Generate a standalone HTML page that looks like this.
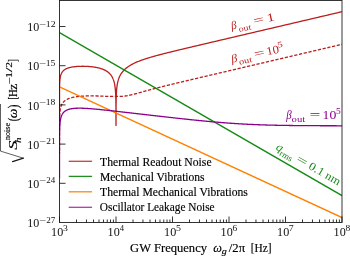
<!DOCTYPE html>
<html><head><meta charset="utf-8"><style>html,body{margin:0;padding:0;background:#fff;overflow:hidden}svg{display:block;will-change:transform}</style></head>
<body><svg width="350" height="256" viewBox="0 0 350 256">
<rect width="350" height="256" fill="#fff"/>
<defs><clipPath id="c"><rect x="59.5" y="0.5" width="282.5" height="222.0"/></clipPath></defs>
<g clip-path="url(#c)" fill="none" stroke-linejoin="round" stroke-width="1.3">
<path d="M59.50,120.64 L59.50,120.53 L59.50,120.40 L59.50,120.25 L59.50,120.08 L59.50,119.90 L59.50,119.69 L59.50,119.45 L59.50,119.19 L59.50,118.91 L59.50,118.59 L59.50,118.25 L59.50,117.88 L59.50,117.48 L59.50,117.05 L59.50,116.60 L59.50,116.12 L59.50,115.62 L59.50,115.10 L59.50,114.55 L59.50,113.99 L59.50,113.41 L59.50,112.81 L59.50,112.20 L59.50,111.58 L59.50,110.94 L59.50,110.30 L59.50,109.65 L59.50,108.99 L59.50,108.32 L59.50,107.65 L59.50,106.98 L59.50,106.30 L59.50,105.61 L59.50,104.93 L59.50,104.24 L59.50,103.55 L59.50,102.85 L59.50,102.16 L59.50,101.46 L59.50,100.76 L59.50,100.06 L59.50,99.36 L59.51,98.66 L59.51,97.96 L59.51,97.26 L59.51,96.56 L59.51,95.86 L59.51,95.15 L59.51,94.45 L59.52,93.75 L59.52,93.05 L59.52,92.34 L59.53,91.64 L59.53,90.94 L59.54,90.23 L59.55,89.53 L59.55,88.83 L59.56,88.54 L59.56,88.12 L59.57,87.42 L59.59,86.72 L59.60,86.02 L59.62,85.32 L59.64,84.62 L59.66,83.92 L59.69,83.22 L59.70,83.03 L59.72,82.52 L59.76,81.82 L59.81,81.12 L59.84,80.68 L59.86,80.43 L59.93,79.74 L59.98,79.17 L60.00,79.05 L60.07,78.50 L60.09,78.36 L60.13,78.07 L60.19,77.67 L60.27,77.19 L60.31,76.99 L60.41,76.47 L60.45,76.31 L60.56,75.86 L60.61,75.64 L60.63,75.56 L60.70,75.33 L60.81,74.97 L60.84,74.86 L60.98,74.44 L61.03,74.31 L61.13,74.07 L61.20,73.89 L61.27,73.72 L61.30,73.65 L61.41,73.41 L61.55,73.12 L61.61,73.00 L61.70,72.85 L61.76,72.73 L61.84,72.60 L61.98,72.37 L61.98,72.37 L62.12,72.15 L62.27,71.94 L62.33,71.85 L62.41,71.75 L62.41,71.74 L62.55,71.56 L62.70,71.39 L62.84,71.22 L62.90,71.16 L62.92,71.13 L62.98,71.06 L63.12,70.91 L63.27,70.77 L63.41,70.63 L63.46,70.58 L63.52,70.53 L63.55,70.50 L63.69,70.38 L63.84,70.25 L63.98,70.14 L64.03,70.10 L64.12,70.03 L64.21,69.96 L64.27,69.92 L64.41,69.82 L64.55,69.72 L64.60,69.68 L64.69,69.62 L64.84,69.53 L64.98,69.44 L65.03,69.40 L65.12,69.35 L65.16,69.32 L65.26,69.26 L65.41,69.18 L65.55,69.10 L65.69,69.03 L65.73,69.01 L65.83,68.95 L65.98,68.88 L66.00,68.87 L66.12,68.81 L66.26,68.74 L66.29,68.73 L66.41,68.68 L66.55,68.61 L66.69,68.55 L66.83,68.49 L66.86,68.48 L66.98,68.43 L67.12,68.37 L67.13,68.37 L67.26,68.31 L67.40,68.26 L67.43,68.25 L67.55,68.21 L67.69,68.16 L67.83,68.10 L67.97,68.06 L67.99,68.05 L68.45,67.90 L68.56,67.87 L69.12,67.70 L69.69,67.55 L70.26,67.41 L70.82,67.29 L71.39,67.17 L71.95,67.07 L72.52,66.97 L73.09,66.88 L73.65,66.80 L74.22,66.73 L74.79,66.67 L75.35,66.61 L75.92,66.55 L76.48,66.50 L77.05,66.46 L77.62,66.42 L78.18,66.39 L78.75,66.36 L79.31,66.33 L79.88,66.31 L80.45,66.30 L81.01,66.29 L81.58,66.28 L82.15,66.27 L82.71,66.27 L83.28,66.27 L83.84,66.28 L84.41,66.29 L84.98,66.30 L85.54,66.32 L86.11,66.34 L86.67,66.37 L87.24,66.39 L87.81,66.43 L88.37,66.46 L88.94,66.50 L89.51,66.55 L90.07,66.60 L90.64,66.65 L91.20,66.71 L91.77,66.77 L92.34,66.83 L92.90,66.90 L93.47,66.98 L94.03,67.06 L94.60,67.15 L95.17,67.24 L95.73,67.34 L96.30,67.45 L96.86,67.56 L97.43,67.68 L98.00,67.81 L98.56,67.94 L99.13,68.09 L99.70,68.24 L100.26,68.40 L100.83,68.57 L101.39,68.76 L101.96,68.95 L102.53,69.16 L103.09,69.38 L103.66,69.62 L104.22,69.87 L104.79,70.15 L105.36,70.44 L105.92,70.75 L106.49,71.09 L107.06,71.45 L107.62,71.85 L108.19,72.28 L108.75,72.75 L109.32,73.27 L109.89,73.84 L110.45,74.47 L111.02,75.19 L111.58,76.00 L112.15,76.93 L112.61,77.81 L112.67,77.93 L112.72,78.03 L112.72,78.05 L112.78,78.17 L112.84,78.29 L112.89,78.41 L112.95,78.54 L113.01,78.67 L113.06,78.81 L113.12,78.94 L113.17,79.08 L113.23,79.22 L113.28,79.35 L113.29,79.37 L113.34,79.52 L113.40,79.67 L113.46,79.82 L113.51,79.98 L113.57,80.14 L113.63,80.31 L113.68,80.48 L113.74,80.65 L113.80,80.83 L113.85,81.00 L113.85,81.02 L113.91,81.21 L113.97,81.40 L114.02,81.60 L114.08,81.81 L114.14,82.02 L114.19,82.24 L114.25,82.47 L114.30,82.70 L114.36,82.95 L114.41,83.18 L114.42,83.20 L114.47,83.46 L114.53,83.73 L114.59,84.01 L114.64,84.31 L114.70,84.61 L114.76,84.94 L114.81,85.27 L114.87,85.62 L114.93,86.00 L114.98,86.37 L114.98,86.39 L115.04,86.80 L115.10,87.24 L115.15,87.71 L115.21,88.22 L115.27,88.76 L115.32,89.34 L115.38,89.97 L115.43,90.67 L115.49,91.44 L115.55,92.29 L115.55,92.30 L115.60,93.28 L115.66,94.41 L115.72,95.75 L115.77,97.39 L115.83,99.51 L115.89,102.50 L115.94,107.61 L116.00,125.60 L116.06,107.59 L116.11,102.47 L116.11,102.46 L116.17,99.47 L116.23,97.34 L116.28,95.68 L116.34,94.33 L116.40,93.19 L116.45,92.19 L116.51,91.32 L116.56,90.53 L116.62,89.82 L116.68,89.17 L116.68,89.16 L116.73,88.57 L116.79,88.02 L116.85,87.50 L116.90,87.02 L116.96,86.57 L117.02,86.14 L117.07,85.73 L117.13,85.35 L117.19,84.98 L117.24,84.63 L117.25,84.61 L117.30,84.29 L117.36,83.97 L117.41,83.67 L117.47,83.37 L117.53,83.08 L117.58,82.81 L117.64,82.54 L117.69,82.29 L117.75,82.04 L117.81,81.80 L117.81,81.78 L117.86,81.56 L117.92,81.34 L117.98,81.12 L118.03,80.90 L118.09,80.69 L118.15,80.49 L118.20,80.29 L118.26,80.10 L118.32,79.91 L118.37,79.72 L118.38,79.71 L118.43,79.54 L118.49,79.37 L118.54,79.19 L118.60,79.03 L118.66,78.86 L118.71,78.70 L118.77,78.54 L118.82,78.39 L118.88,78.23 L118.94,78.08 L118.94,78.07 L118.99,77.94 L119.05,77.79 L119.11,77.65 L119.16,77.51 L119.22,77.37 L119.28,77.24 L119.33,77.11 L119.39,76.98 L119.51,76.71 L120.08,75.54 L120.64,74.52 L121.21,73.61 L121.77,72.79 L122.34,72.04 L122.91,71.35 L123.47,70.72 L124.04,70.12 L124.61,69.57 L125.17,69.04 L125.74,68.55 L126.30,68.08 L126.87,67.63 L127.44,67.21 L128.00,66.81 L128.57,66.42 L129.13,66.04 L129.70,65.69 L130.27,65.34 L130.83,65.01 L131.40,64.69 L131.96,64.38 L132.53,64.07 L133.10,63.78 L133.66,63.50 L134.23,63.22 L134.80,62.95 L135.36,62.69 L135.93,62.44 L136.49,62.19 L137.06,61.95 L137.63,61.71 L138.19,61.48 L138.76,61.25 L139.32,61.03 L139.89,60.81 L140.46,60.59 L141.02,60.38 L141.59,60.18 L142.16,59.98 L142.72,59.78 L143.29,59.58 L143.85,59.39 L144.42,59.19 L144.99,59.01 L145.55,58.82 L146.12,58.64 L146.68,58.46 L147.25,58.28 L147.82,58.10 L148.38,57.93 L148.95,57.76 L149.52,57.59 L150.08,57.42 L150.65,57.25 L151.21,57.09 L151.78,56.92 L152.35,56.76 L152.91,56.60 L153.48,56.44 L154.04,56.28 L154.61,56.12 L155.18,55.97 L155.74,55.81 L156.31,55.66 L156.87,55.50 L157.44,55.35 L158.01,55.20 L158.57,55.05 L159.14,54.90 L159.71,54.75 L160.27,54.60 L160.84,54.46 L161.40,54.31 L161.97,54.16 L162.54,54.02 L163.10,53.87 L163.67,53.73 L164.23,53.58 L164.80,53.44 L165.37,53.30 L165.93,53.15 L166.50,53.01 L167.07,52.87 L167.63,52.73 L168.20,52.59 L168.76,52.45 L169.33,52.31 L169.90,52.17 L170.46,52.03 L171.03,51.89 L171.59,51.75 L172.16,51.61 L172.73,51.48 L173.29,51.34 L173.86,51.20 L174.42,51.06 L174.99,50.92 L175.56,50.79 L176.12,50.65 L176.69,50.51 L177.26,50.38 L177.82,50.24 L178.39,50.11 L178.95,49.97 L179.52,49.83 L180.09,49.70 L180.65,49.56 L181.22,49.43 L181.78,49.29 L182.35,49.16 L182.92,49.02 L183.48,48.89 L184.05,48.75 L184.62,48.62 L185.18,48.48 L185.75,48.35 L186.31,48.21 L186.88,48.08 L187.45,47.94 L188.01,47.81 L188.58,47.68 L189.14,47.54 L189.71,47.41 L190.28,47.27 L190.84,47.14 L191.41,47.01 L191.97,46.87 L192.54,46.74 L193.11,46.60 L193.67,46.47 L194.24,46.34 L194.81,46.20 L195.37,46.07 L195.94,45.94 L196.50,45.80 L197.07,45.67 L197.64,45.54 L198.20,45.40 L198.77,45.27 L199.33,45.14 L199.90,45.00 L200.47,44.87 L201.03,44.74 L201.60,44.60 L202.17,44.47 L202.73,44.34 L203.30,44.20 L203.86,44.07 L204.43,43.94 L205.00,43.80 L205.56,43.67 L206.13,43.54 L206.69,43.41 L207.26,43.27 L207.83,43.14 L208.39,43.01 L208.96,42.87 L209.53,42.74 L210.09,42.61 L210.66,42.47 L211.22,42.34 L211.79,42.21 L212.36,42.08 L212.92,41.94 L213.49,41.81 L214.05,41.68 L214.62,41.54 L215.19,41.41 L215.75,41.28 L216.32,41.15 L216.88,41.01 L217.45,40.88 L218.02,40.75 L218.58,40.62 L219.15,40.48 L219.72,40.35 L220.28,40.22 L220.85,40.08 L221.41,39.95 L221.98,39.82 L222.55,39.69 L223.11,39.55 L223.68,39.42 L224.24,39.29 L224.81,39.16 L225.38,39.02 L225.94,38.89 L226.51,38.76 L227.08,38.62 L227.64,38.49 L228.21,38.36 L228.77,38.23 L229.34,38.09 L229.91,37.96 L230.47,37.83 L231.04,37.70 L231.60,37.56 L232.17,37.43 L232.74,37.30 L233.30,37.16 L233.87,37.03 L234.43,36.90 L235.00,36.77 L235.57,36.63 L236.13,36.50 L236.70,36.37 L237.27,36.24 L237.83,36.10 L238.40,35.97 L238.96,35.84 L239.53,35.71 L240.10,35.57 L240.66,35.44 L241.23,35.31 L241.79,35.17 L242.36,35.04 L242.93,34.91 L243.49,34.78 L244.06,34.64 L244.63,34.51 L245.19,34.38 L245.76,34.25 L246.32,34.11 L246.89,33.98 L247.46,33.85 L248.02,33.72 L248.59,33.58 L249.15,33.45 L249.72,33.32 L250.29,33.18 L250.85,33.05 L251.42,32.92 L251.98,32.79 L252.55,32.65 L253.12,32.52 L253.68,32.39 L254.25,32.26 L254.82,32.12 L255.38,31.99 L255.95,31.86 L256.51,31.73 L257.08,31.59 L257.65,31.46 L258.21,31.33 L258.78,31.19 L259.34,31.06 L259.91,30.93 L260.48,30.80 L261.04,30.66 L261.61,30.53 L262.18,30.40 L262.74,30.27 L263.31,30.13 L263.87,30.00 L264.44,29.87 L265.01,29.74 L265.57,29.60 L266.14,29.47 L266.70,29.34 L267.27,29.20 L267.84,29.07 L268.40,28.94 L268.97,28.81 L269.54,28.67 L270.10,28.54 L270.67,28.41 L271.23,28.28 L271.80,28.14 L272.37,28.01 L272.93,27.88 L273.50,27.75 L274.06,27.61 L274.63,27.48 L275.20,27.35 L275.76,27.22 L276.33,27.08 L276.89,26.95 L277.46,26.82 L278.03,26.68 L278.59,26.55 L279.16,26.42 L279.73,26.29 L280.29,26.15 L280.86,26.02 L281.42,25.89 L281.99,25.76 L282.56,25.62 L283.12,25.49 L283.69,25.36 L284.25,25.23 L284.82,25.09 L285.39,24.96 L285.95,24.83 L286.52,24.69 L287.09,24.56 L287.65,24.43 L288.22,24.30 L288.78,24.16 L289.35,24.03 L289.92,23.90 L290.48,23.77 L291.05,23.63 L291.61,23.50 L292.18,23.37 L292.75,23.24 L293.31,23.10 L293.88,22.97 L294.44,22.84 L295.01,22.71 L295.58,22.57 L296.14,22.44 L296.71,22.31 L297.28,22.17 L297.84,22.04 L298.41,21.91 L298.97,21.78 L299.54,21.64 L300.11,21.51 L300.67,21.38 L301.24,21.25 L301.80,21.11 L302.37,20.98 L302.94,20.85 L303.50,20.72 L304.07,20.58 L304.64,20.45 L305.20,20.32 L305.77,20.18 L306.33,20.05 L306.90,19.92 L307.47,19.79 L308.03,19.65 L308.60,19.52 L309.16,19.39 L309.73,19.26 L310.30,19.12 L310.86,18.99 L311.43,18.86 L311.99,18.73 L312.56,18.59 L313.13,18.46 L313.69,18.33 L314.26,18.20 L314.83,18.06 L315.39,17.93 L315.96,17.80 L316.52,17.66 L317.09,17.53 L317.66,17.40 L318.22,17.27 L318.79,17.13 L319.35,17.00 L319.92,16.87 L320.49,16.74 L321.05,16.60 L321.62,16.47 L322.19,16.34 L322.75,16.21 L323.32,16.07 L323.88,15.94 L324.45,15.81 L325.02,15.67 L325.58,15.54 L326.15,15.41 L326.71,15.28 L327.28,15.14 L327.85,15.01 L328.41,14.88 L328.98,14.75 L329.55,14.61 L330.11,14.48 L330.68,14.35 L331.24,14.22 L331.81,14.08 L332.38,13.95 L332.94,13.82 L333.51,13.69 L334.07,13.55 L334.64,13.42 L335.21,13.29 L335.77,13.15 L336.34,13.02 L336.90,12.89 L337.47,12.76 L338.04,12.62 L338.60,12.49 L339.17,12.36 L339.74,12.23 L340.30,12.09 L340.87,11.96 L341.43,11.83 L342.00,11.70" stroke="#bb1e1e"/>
<path d="M59.50,153.26 L59.50,153.15 L59.50,153.02 L59.50,152.87 L59.50,152.71 L59.50,152.52 L59.50,152.31 L59.50,152.08 L59.50,151.82 L59.50,151.53 L59.50,151.22 L59.50,150.87 L59.50,150.50 L59.50,150.10 L59.50,149.68 L59.50,149.23 L59.50,148.75 L59.50,148.25 L59.50,147.72 L59.50,147.18 L59.50,146.61 L59.50,146.03 L59.50,145.43 L59.50,144.82 L59.50,144.20 L59.50,143.57 L59.50,142.92 L59.50,142.27 L59.50,141.61 L59.50,140.95 L59.50,140.28 L59.50,139.60 L59.50,138.92 L59.50,138.24 L59.50,137.55 L59.50,136.86 L59.50,136.17 L59.50,135.47 L59.50,134.78 L59.50,134.08 L59.50,133.38 L59.50,132.68 L59.50,131.98 L59.51,131.28 L59.51,130.58 L59.51,129.88 L59.51,129.17 L59.51,128.47 L59.51,127.77 L59.51,127.06 L59.52,126.36 L59.52,125.65 L59.52,124.95 L59.53,124.24 L59.53,123.53 L59.54,122.83 L59.55,122.12 L59.55,121.41 L59.56,121.12 L59.56,120.70 L59.57,119.99 L59.59,119.28 L59.60,118.57 L59.62,117.86 L59.64,117.15 L59.66,116.43 L59.69,115.72 L59.70,115.52 L59.72,115.00 L59.76,114.29 L59.81,113.57 L59.84,113.11 L59.86,112.85 L59.93,112.13 L59.98,111.54 L60.00,111.41 L60.07,110.84 L60.09,110.68 L60.13,110.37 L60.19,109.96 L60.27,109.45 L60.31,109.23 L60.41,108.67 L60.45,108.50 L60.56,108.01 L60.61,107.77 L60.63,107.69 L60.70,107.44 L60.81,107.04 L60.84,106.92 L60.98,106.46 L61.03,106.31 L61.13,106.04 L61.20,105.85 L61.27,105.66 L61.30,105.58 L61.41,105.31 L61.55,104.98 L61.61,104.85 L61.70,104.68 L61.76,104.54 L61.84,104.39 L61.98,104.13 L61.98,104.13 L62.12,103.87 L62.27,103.64 L62.33,103.53 L62.41,103.41 L62.41,103.41 L62.55,103.20 L62.70,102.99 L62.84,102.80 L62.90,102.72 L62.92,102.69 L62.98,102.61 L63.12,102.44 L63.27,102.27 L63.41,102.10 L63.46,102.04 L63.52,101.99 L63.55,101.95 L63.69,101.80 L63.84,101.65 L63.98,101.51 L64.03,101.46 L64.12,101.38 L64.21,101.29 L64.27,101.25 L64.41,101.12 L64.55,101.00 L64.60,100.96 L64.69,100.88 L64.84,100.77 L64.98,100.66 L65.03,100.61 L65.12,100.55 L65.16,100.52 L65.26,100.44 L65.41,100.34 L65.55,100.25 L65.69,100.15 L65.73,100.13 L65.83,100.06 L65.98,99.97 L66.00,99.96 L66.12,99.88 L66.26,99.79 L66.29,99.78 L66.41,99.71 L66.55,99.63 L66.69,99.55 L66.83,99.47 L66.86,99.46 L66.98,99.40 L67.12,99.33 L67.13,99.32 L67.26,99.25 L67.40,99.19 L67.43,99.17 L67.55,99.12 L67.69,99.05 L67.83,98.99 L67.97,98.92 L67.99,98.91 L68.45,98.72 L68.56,98.68 L69.12,98.46 L69.69,98.26 L70.26,98.07 L70.82,97.90 L71.39,97.75 L71.95,97.60 L72.52,97.46 L73.09,97.34 L73.65,97.22 L74.22,97.11 L74.79,97.01 L75.35,96.92 L75.92,96.83 L76.48,96.75 L77.05,96.67 L77.62,96.60 L78.18,96.53 L78.75,96.47 L79.31,96.41 L79.88,96.36 L80.45,96.31 L81.01,96.26 L81.58,96.22 L82.15,96.18 L82.71,96.15 L83.28,96.11 L83.84,96.08 L84.41,96.06 L84.98,96.03 L85.54,96.01 L86.11,95.99 L86.67,95.97 L87.24,95.96 L87.81,95.95 L88.37,95.94 L88.94,95.93 L89.51,95.92 L90.07,95.92 L90.64,95.91 L91.20,95.91 L91.77,95.91 L92.34,95.92 L92.90,95.92 L93.47,95.93 L94.03,95.93 L94.60,95.94 L95.17,95.95 L95.73,95.96 L96.30,95.97 L96.86,95.99 L97.43,96.00 L98.00,96.02 L98.56,96.04 L99.13,96.05 L99.70,96.07 L100.26,96.09 L100.83,96.11 L101.39,96.13 L101.96,96.15 L102.53,96.18 L103.09,96.20 L103.66,96.22 L104.22,96.24 L104.79,96.26 L105.36,96.28 L105.92,96.30 L106.49,96.32 L107.06,96.34 L107.62,96.36 L108.19,96.38 L108.75,96.39 L109.32,96.41 L109.89,96.42 L110.45,96.43 L111.02,96.44 L111.58,96.45 L112.15,96.46 L112.72,96.46 L113.28,96.46 L113.85,96.47 L114.41,96.47 L114.98,96.46 L115.55,96.46 L116.11,96.46 L116.68,96.46 L117.25,96.45 L117.81,96.44 L118.38,96.44 L118.94,96.43 L119.51,96.41 L120.08,96.39 L120.64,96.37 L121.21,96.35 L121.77,96.32 L122.34,96.28 L122.91,96.24 L123.47,96.19 L124.04,96.14 L124.61,96.08 L125.17,96.01 L125.74,95.93 L126.30,95.85 L126.87,95.77 L127.44,95.67 L128.00,95.57 L128.57,95.47 L129.13,95.36 L129.70,95.24 L130.27,95.12 L130.83,94.99 L131.40,94.86 L131.96,94.72 L132.53,94.58 L133.10,94.44 L133.66,94.29 L134.23,94.15 L134.80,94.00 L135.36,93.84 L135.93,93.69 L136.49,93.53 L137.06,93.38 L137.63,93.22 L138.19,93.06 L138.76,92.90 L139.32,92.74 L139.89,92.58 L140.46,92.42 L141.02,92.26 L141.59,92.10 L142.16,91.94 L142.72,91.78 L143.29,91.62 L143.85,91.46 L144.42,91.30 L144.99,91.15 L145.55,90.99 L146.12,90.83 L146.68,90.68 L147.25,90.52 L147.82,90.37 L148.38,90.21 L148.95,90.06 L149.52,89.91 L150.08,89.76 L150.65,89.60 L151.21,89.45 L151.78,89.30 L152.35,89.15 L152.91,89.00 L153.48,88.86 L154.04,88.71 L154.61,88.56 L155.18,88.41 L155.74,88.27 L156.31,88.12 L156.87,87.98 L157.44,87.83 L158.01,87.69 L158.57,87.55 L159.14,87.40 L159.71,87.26 L160.27,87.12 L160.84,86.97 L161.40,86.83 L161.97,86.69 L162.54,86.55 L163.10,86.41 L163.67,86.27 L164.23,86.13 L164.80,85.99 L165.37,85.85 L165.93,85.71 L166.50,85.57 L167.07,85.44 L167.63,85.30 L168.20,85.16 L168.76,85.02 L169.33,84.88 L169.90,84.75 L170.46,84.61 L171.03,84.47 L171.59,84.34 L172.16,84.20 L172.73,84.06 L173.29,83.93 L173.86,83.79 L174.42,83.65 L174.99,83.52 L175.56,83.38 L176.12,83.25 L176.69,83.11 L177.26,82.98 L177.82,82.84 L178.39,82.71 L178.95,82.57 L179.52,82.44 L180.09,82.30 L180.65,82.17 L181.22,82.03 L181.78,81.90 L182.35,81.76 L182.92,81.63 L183.48,81.50 L184.05,81.36 L184.62,81.23 L185.18,81.09 L185.75,80.96 L186.31,80.82 L186.88,80.69 L187.45,80.56 L188.01,80.42 L188.58,80.29 L189.14,80.16 L189.71,80.02 L190.28,79.89 L190.84,79.76 L191.41,79.62 L191.97,79.49 L192.54,79.35 L193.11,79.22 L193.67,79.09 L194.24,78.95 L194.81,78.82 L195.37,78.69 L195.94,78.56 L196.50,78.42 L197.07,78.29 L197.64,78.16 L198.20,78.02 L198.77,77.89 L199.33,77.76 L199.90,77.62 L200.47,77.49 L201.03,77.36 L201.60,77.22 L202.17,77.09 L202.73,76.96 L203.30,76.83 L203.86,76.69 L204.43,76.56 L205.00,76.43 L205.56,76.29 L206.13,76.16 L206.69,76.03 L207.26,75.89 L207.83,75.76 L208.39,75.63 L208.96,75.50 L209.53,75.36 L210.09,75.23 L210.66,75.10 L211.22,74.96 L211.79,74.83 L212.36,74.70 L212.92,74.57 L213.49,74.43 L214.05,74.30 L214.62,74.17 L215.19,74.04 L215.75,73.90 L216.32,73.77 L216.88,73.64 L217.45,73.50 L218.02,73.37 L218.58,73.24 L219.15,73.11 L219.72,72.97 L220.28,72.84 L220.85,72.71 L221.41,72.58 L221.98,72.44 L222.55,72.31 L223.11,72.18 L223.68,72.04 L224.24,71.91 L224.81,71.78 L225.38,71.65 L225.94,71.51 L226.51,71.38 L227.08,71.25 L227.64,71.12 L228.21,70.98 L228.77,70.85 L229.34,70.72 L229.91,70.58 L230.47,70.45 L231.04,70.32 L231.60,70.19 L232.17,70.05 L232.74,69.92 L233.30,69.79 L233.87,69.66 L234.43,69.52 L235.00,69.39 L235.57,69.26 L236.13,69.13 L236.70,68.99 L237.27,68.86 L237.83,68.73 L238.40,68.59 L238.96,68.46 L239.53,68.33 L240.10,68.20 L240.66,68.06 L241.23,67.93 L241.79,67.80 L242.36,67.67 L242.93,67.53 L243.49,67.40 L244.06,67.27 L244.63,67.14 L245.19,67.00 L245.76,66.87 L246.32,66.74 L246.89,66.60 L247.46,66.47 L248.02,66.34 L248.59,66.21 L249.15,66.07 L249.72,65.94 L250.29,65.81 L250.85,65.68 L251.42,65.54 L251.98,65.41 L252.55,65.28 L253.12,65.15 L253.68,65.01 L254.25,64.88 L254.82,64.75 L255.38,64.61 L255.95,64.48 L256.51,64.35 L257.08,64.22 L257.65,64.08 L258.21,63.95 L258.78,63.82 L259.34,63.69 L259.91,63.55 L260.48,63.42 L261.04,63.29 L261.61,63.16 L262.18,63.02 L262.74,62.89 L263.31,62.76 L263.87,62.62 L264.44,62.49 L265.01,62.36 L265.57,62.23 L266.14,62.09 L266.70,61.96 L267.27,61.83 L267.84,61.70 L268.40,61.56 L268.97,61.43 L269.54,61.30 L270.10,61.17 L270.67,61.03 L271.23,60.90 L271.80,60.77 L272.37,60.64 L272.93,60.50 L273.50,60.37 L274.06,60.24 L274.63,60.10 L275.20,59.97 L275.76,59.84 L276.33,59.71 L276.89,59.57 L277.46,59.44 L278.03,59.31 L278.59,59.18 L279.16,59.04 L279.73,58.91 L280.29,58.78 L280.86,58.65 L281.42,58.51 L281.99,58.38 L282.56,58.25 L283.12,58.11 L283.69,57.98 L284.25,57.85 L284.82,57.72 L285.39,57.58 L285.95,57.45 L286.52,57.32 L287.09,57.19 L287.65,57.05 L288.22,56.92 L288.78,56.79 L289.35,56.66 L289.92,56.52 L290.48,56.39 L291.05,56.26 L291.61,56.13 L292.18,55.99 L292.75,55.86 L293.31,55.73 L293.88,55.59 L294.44,55.46 L295.01,55.33 L295.58,55.20 L296.14,55.06 L296.71,54.93 L297.28,54.80 L297.84,54.67 L298.41,54.53 L298.97,54.40 L299.54,54.27 L300.11,54.14 L300.67,54.00 L301.24,53.87 L301.80,53.74 L302.37,53.60 L302.94,53.47 L303.50,53.34 L304.07,53.21 L304.64,53.07 L305.20,52.94 L305.77,52.81 L306.33,52.68 L306.90,52.54 L307.47,52.41 L308.03,52.28 L308.60,52.15 L309.16,52.01 L309.73,51.88 L310.30,51.75 L310.86,51.62 L311.43,51.48 L311.99,51.35 L312.56,51.22 L313.13,51.08 L313.69,50.95 L314.26,50.82 L314.83,50.69 L315.39,50.55 L315.96,50.42 L316.52,50.29 L317.09,50.16 L317.66,50.02 L318.22,49.89 L318.79,49.76 L319.35,49.63 L319.92,49.49 L320.49,49.36 L321.05,49.23 L321.62,49.09 L322.19,48.96 L322.75,48.83 L323.32,48.70 L323.88,48.56 L324.45,48.43 L325.02,48.30 L325.58,48.17 L326.15,48.03 L326.71,47.90 L327.28,47.77 L327.85,47.64 L328.41,47.50 L328.98,47.37 L329.55,47.24 L330.11,47.11 L330.68,46.97 L331.24,46.84 L331.81,46.71 L332.38,46.57 L332.94,46.44 L333.51,46.31 L334.07,46.18 L334.64,46.04 L335.21,45.91 L335.77,45.78 L336.34,45.65 L336.90,45.51 L337.47,45.38 L338.04,45.25 L338.60,45.12 L339.17,44.98 L339.74,44.85 L340.30,44.72 L340.87,44.58 L341.43,44.45 L342.00,44.32" stroke="#bb1e1e" stroke-dasharray="3.25 1.6" stroke-dashoffset="2.0"/>
<path d="M59.50,32.60 L342.00,195.60" stroke="#158a15"/>
<path d="M59.50,86.90 L342.00,217.58" stroke="#ff8000"/>
<path d="M59.50,178.59 L59.50,178.44 L59.50,178.27 L59.50,178.08 L59.50,177.86 L59.50,177.61 L59.50,177.33 L59.50,177.02 L59.50,176.67 L59.50,176.29 L59.50,175.88 L59.50,175.42 L59.50,174.93 L59.50,174.40 L59.50,173.83 L59.50,173.23 L59.50,172.60 L59.50,171.93 L59.50,171.24 L59.50,170.51 L59.50,169.76 L59.50,168.99 L59.50,168.20 L59.50,167.39 L59.50,166.56 L59.50,165.72 L59.50,164.87 L59.50,164.00 L59.50,163.13 L59.50,162.24 L59.50,161.35 L59.50,160.45 L59.50,159.55 L59.50,158.64 L59.50,157.73 L59.50,156.82 L59.50,155.90 L59.50,154.98 L59.50,154.06 L59.50,153.13 L59.50,152.20 L59.50,151.28 L59.50,150.35 L59.51,149.42 L59.51,148.49 L59.51,147.56 L59.51,146.63 L59.51,145.69 L59.51,144.76 L59.51,143.83 L59.52,142.90 L59.52,141.96 L59.52,141.03 L59.53,140.10 L59.53,139.16 L59.54,138.23 L59.55,137.30 L59.55,136.36 L59.56,135.98 L59.56,135.43 L59.57,134.50 L59.59,133.57 L59.60,132.64 L59.62,131.71 L59.64,130.78 L59.66,129.86 L59.69,128.93 L59.70,128.68 L59.72,128.01 L59.76,127.08 L59.81,126.16 L59.84,125.58 L59.86,125.25 L59.93,124.33 L59.98,123.59 L60.00,123.42 L60.07,122.71 L60.09,122.52 L60.13,122.14 L60.19,121.62 L60.27,120.99 L60.31,120.73 L60.41,120.05 L60.45,119.84 L60.56,119.25 L60.61,118.96 L60.63,118.87 L60.70,118.56 L60.81,118.10 L60.84,117.96 L60.98,117.42 L61.03,117.24 L61.13,116.93 L61.20,116.70 L61.27,116.49 L61.30,116.40 L61.41,116.09 L61.55,115.72 L61.61,115.57 L61.70,115.37 L61.76,115.22 L61.84,115.06 L61.98,114.76 L61.98,114.76 L62.12,114.48 L62.27,114.23 L62.33,114.12 L62.41,113.98 L62.41,113.98 L62.55,113.75 L62.70,113.53 L62.84,113.33 L62.90,113.25 L62.92,113.22 L62.98,113.13 L63.12,112.95 L63.27,112.77 L63.41,112.60 L63.46,112.54 L63.52,112.48 L63.55,112.44 L63.69,112.29 L63.84,112.14 L63.98,112.00 L64.03,111.96 L64.12,111.87 L64.21,111.79 L64.27,111.74 L64.41,111.62 L64.55,111.50 L64.60,111.46 L64.69,111.38 L64.84,111.27 L64.98,111.17 L65.03,111.13 L65.12,111.07 L65.16,111.04 L65.26,110.97 L65.41,110.87 L65.55,110.78 L65.69,110.69 L65.73,110.67 L65.83,110.61 L65.98,110.53 L66.00,110.52 L66.12,110.45 L66.26,110.37 L66.29,110.36 L66.41,110.30 L66.55,110.23 L66.69,110.16 L66.83,110.09 L66.86,110.08 L66.98,110.02 L67.12,109.96 L67.13,109.96 L67.26,109.90 L67.40,109.84 L67.43,109.83 L67.55,109.78 L67.69,109.73 L67.83,109.67 L67.97,109.62 L67.99,109.62 L68.45,109.46 L68.56,109.42 L69.12,109.25 L69.69,109.10 L70.26,108.97 L70.82,108.85 L71.39,108.75 L71.95,108.66 L72.52,108.58 L73.09,108.50 L73.65,108.44 L74.22,108.39 L74.79,108.34 L75.35,108.30 L75.92,108.27 L76.48,108.25 L77.05,108.23 L77.62,108.21 L78.18,108.20 L78.75,108.19 L79.31,108.19 L79.88,108.19 L80.45,108.20 L81.01,108.21 L81.58,108.22 L82.15,108.23 L82.71,108.25 L83.28,108.27 L83.84,108.29 L84.41,108.32 L84.98,108.34 L85.54,108.37 L86.11,108.40 L86.67,108.44 L87.24,108.47 L87.81,108.51 L88.37,108.54 L88.94,108.58 L89.51,108.62 L90.07,108.66 L90.64,108.71 L91.20,108.75 L91.77,108.80 L92.34,108.84 L92.90,108.89 L93.47,108.94 L94.03,108.99 L94.60,109.04 L95.17,109.09 L95.73,109.14 L96.30,109.19 L96.86,109.24 L97.43,109.30 L98.00,109.35 L98.56,109.40 L99.13,109.46 L99.70,109.51 L100.26,109.57 L100.83,109.63 L101.39,109.68 L101.96,109.74 L102.53,109.80 L103.09,109.86 L103.66,109.92 L104.22,109.98 L104.79,110.04 L105.36,110.09 L105.92,110.15 L106.49,110.21 L107.06,110.28 L107.62,110.34 L108.19,110.40 L108.75,110.46 L109.32,110.52 L109.89,110.58 L110.45,110.64 L111.02,110.71 L111.58,110.77 L112.15,110.83 L112.72,110.89 L113.28,110.96 L113.85,111.02 L114.41,111.08 L114.98,111.15 L115.55,111.21 L116.11,111.27 L116.68,111.34 L117.25,111.40 L117.81,111.46 L118.38,111.53 L118.94,111.59 L119.51,111.66 L120.08,111.72 L120.64,111.78 L121.21,111.85 L121.77,111.91 L122.34,111.98 L122.91,112.04 L123.47,112.11 L124.04,112.17 L124.61,112.24 L125.17,112.30 L125.74,112.36 L126.30,112.43 L126.87,112.49 L127.44,112.56 L128.00,112.62 L128.57,112.69 L129.13,112.75 L129.70,112.82 L130.27,112.88 L130.83,112.95 L131.40,113.01 L131.96,113.08 L132.53,113.15 L133.10,113.21 L133.66,113.28 L134.23,113.34 L134.80,113.41 L135.36,113.47 L135.93,113.54 L136.49,113.60 L137.06,113.67 L137.63,113.73 L138.19,113.80 L138.76,113.86 L139.32,113.93 L139.89,113.99 L140.46,114.06 L141.02,114.12 L141.59,114.19 L142.16,114.25 L142.72,114.32 L143.29,114.38 L143.85,114.45 L144.42,114.51 L144.99,114.58 L145.55,114.64 L146.12,114.71 L146.68,114.77 L147.25,114.84 L147.82,114.90 L148.38,114.97 L148.95,115.03 L149.52,115.10 L150.08,115.16 L150.65,115.23 L151.21,115.29 L151.78,115.36 L152.35,115.42 L152.91,115.49 L153.48,115.55 L154.04,115.62 L154.61,115.68 L155.18,115.75 L155.74,115.81 L156.31,115.88 L156.87,115.94 L157.44,116.01 L158.01,116.07 L158.57,116.13 L159.14,116.20 L159.71,116.26 L160.27,116.33 L160.84,116.39 L161.40,116.45 L161.97,116.52 L162.54,116.58 L163.10,116.65 L163.67,116.71 L164.23,116.77 L164.80,116.84 L165.37,116.90 L165.93,116.97 L166.50,117.03 L167.07,117.09 L167.63,117.16 L168.20,117.22 L168.76,117.28 L169.33,117.35 L169.90,117.41 L170.46,117.47 L171.03,117.54 L171.59,117.60 L172.16,117.66 L172.73,117.72 L173.29,117.79 L173.86,117.85 L174.42,117.91 L174.99,117.97 L175.56,118.04 L176.12,118.10 L176.69,118.16 L177.26,118.22 L177.82,118.29 L178.39,118.35 L178.95,118.41 L179.52,118.47 L180.09,118.53 L180.65,118.59 L181.22,118.66 L181.78,118.72 L182.35,118.78 L182.92,118.84 L183.48,118.90 L184.05,118.96 L184.62,119.02 L185.18,119.08 L185.75,119.14 L186.31,119.20 L186.88,119.26 L187.45,119.32 L188.01,119.38 L188.58,119.44 L189.14,119.50 L189.71,119.56 L190.28,119.62 L190.84,119.68 L191.41,119.74 L191.97,119.80 L192.54,119.85 L193.11,119.91 L193.67,119.97 L194.24,120.03 L194.81,120.09 L195.37,120.15 L195.94,120.20 L196.50,120.26 L197.07,120.32 L197.64,120.37 L198.20,120.43 L198.77,120.49 L199.33,120.54 L199.90,120.60 L200.47,120.66 L201.03,120.71 L201.60,120.77 L202.17,120.82 L202.73,120.88 L203.30,120.93 L203.86,120.99 L204.43,121.04 L205.00,121.10 L205.56,121.15 L206.13,121.20 L206.69,121.26 L207.26,121.31 L207.83,121.36 L208.39,121.42 L208.96,121.47 L209.53,121.52 L210.09,121.57 L210.66,121.62 L211.22,121.67 L211.79,121.73 L212.36,121.78 L212.92,121.83 L213.49,121.88 L214.05,121.93 L214.62,121.98 L215.19,122.03 L215.75,122.08 L216.32,122.12 L216.88,122.17 L217.45,122.22 L218.02,122.27 L218.58,122.32 L219.15,122.36 L219.72,122.41 L220.28,122.46 L220.85,122.50 L221.41,122.55 L221.98,122.59 L222.55,122.64 L223.11,122.68 L223.68,122.73 L224.24,122.77 L224.81,122.82 L225.38,122.86 L225.94,122.90 L226.51,122.94 L227.08,122.99 L227.64,123.03 L228.21,123.07 L228.77,123.11 L229.34,123.15 L229.91,123.19 L230.47,123.23 L231.04,123.27 L231.60,123.31 L232.17,123.35 L232.74,123.39 L233.30,123.43 L233.87,123.47 L234.43,123.50 L235.00,123.54 L235.57,123.58 L236.13,123.61 L236.70,123.65 L237.27,123.68 L237.83,123.72 L238.40,123.75 L238.96,123.79 L239.53,123.82 L240.10,123.86 L240.66,123.89 L241.23,123.92 L241.79,123.95 L242.36,123.99 L242.93,124.02 L243.49,124.05 L244.06,124.08 L244.63,124.11 L245.19,124.14 L245.76,124.17 L246.32,124.20 L246.89,124.23 L247.46,124.26 L248.02,124.28 L248.59,124.31 L249.15,124.34 L249.72,124.37 L250.29,124.39 L250.85,124.42 L251.42,124.45 L251.98,124.47 L252.55,124.50 L253.12,124.52 L253.68,124.55 L254.25,124.57 L254.82,124.59 L255.38,124.62 L255.95,124.64 L256.51,124.66 L257.08,124.68 L257.65,124.71 L258.21,124.73 L258.78,124.75 L259.34,124.77 L259.91,124.79 L260.48,124.81 L261.04,124.83 L261.61,124.85 L262.18,124.87 L262.74,124.89 L263.31,124.91 L263.87,124.92 L264.44,124.94 L265.01,124.96 L265.57,124.98 L266.14,124.99 L266.70,125.01 L267.27,125.03 L267.84,125.04 L268.40,125.06 L268.97,125.08 L269.54,125.09 L270.10,125.11 L270.67,125.12 L271.23,125.14 L271.80,125.15 L272.37,125.16 L272.93,125.18 L273.50,125.19 L274.06,125.20 L274.63,125.22 L275.20,125.23 L275.76,125.24 L276.33,125.25 L276.89,125.27 L277.46,125.28 L278.03,125.29 L278.59,125.30 L279.16,125.31 L279.73,125.32 L280.29,125.33 L280.86,125.34 L281.42,125.36 L281.99,125.37 L282.56,125.38 L283.12,125.38 L283.69,125.39 L284.25,125.40 L284.82,125.41 L285.39,125.42 L285.95,125.43 L286.52,125.44 L287.09,125.45 L287.65,125.46 L288.22,125.46 L288.78,125.47 L289.35,125.48 L289.92,125.49 L290.48,125.49 L291.05,125.50 L291.61,125.51 L292.18,125.52 L292.75,125.52 L293.31,125.53 L293.88,125.54 L294.44,125.54 L295.01,125.55 L295.58,125.55 L296.14,125.56 L296.71,125.57 L297.28,125.57 L297.84,125.58 L298.41,125.58 L298.97,125.59 L299.54,125.59 L300.11,125.60 L300.67,125.60 L301.24,125.61 L301.80,125.61 L302.37,125.62 L302.94,125.62 L303.50,125.63 L304.07,125.63 L304.64,125.64 L305.20,125.64 L305.77,125.65 L306.33,125.65 L306.90,125.65 L307.47,125.66 L308.03,125.66 L308.60,125.66 L309.16,125.67 L309.73,125.67 L310.30,125.68 L310.86,125.68 L311.43,125.68 L311.99,125.69 L312.56,125.69 L313.13,125.69 L313.69,125.69 L314.26,125.70 L314.83,125.70 L315.39,125.70 L315.96,125.71 L316.52,125.71 L317.09,125.71 L317.66,125.71 L318.22,125.72 L318.79,125.72 L319.35,125.72 L319.92,125.72 L320.49,125.73 L321.05,125.73 L321.62,125.73 L322.19,125.73 L322.75,125.74 L323.32,125.74 L323.88,125.74 L324.45,125.74 L325.02,125.74 L325.58,125.75 L326.15,125.75 L326.71,125.75 L327.28,125.75 L327.85,125.75 L328.41,125.75 L328.98,125.76 L329.55,125.76 L330.11,125.76 L330.68,125.76 L331.24,125.76 L331.81,125.76 L332.38,125.76 L332.94,125.77 L333.51,125.77 L334.07,125.77 L334.64,125.77 L335.21,125.77 L335.77,125.77 L336.34,125.77 L336.90,125.78 L337.47,125.78 L338.04,125.78 L338.60,125.78 L339.17,125.78 L339.74,125.78 L340.30,125.78 L340.87,125.78 L341.43,125.78 L342.00,125.78" stroke="#8b008b"/>
</g>
<g stroke="#111" stroke-width="0.85" fill="none">
<path d="M76.51,222.50 v-3 M86.46,222.50 v-3 M93.52,222.50 v-3 M98.99,222.50 v-3 M103.47,222.50 v-3 M107.25,222.50 v-3 M110.52,222.50 v-3 M113.41,222.50 v-3 M133.01,222.50 v-3 M142.96,222.50 v-3 M150.02,222.50 v-3 M155.49,222.50 v-3 M159.97,222.50 v-3 M163.75,222.50 v-3 M167.02,222.50 v-3 M169.91,222.50 v-3 M189.51,222.50 v-3 M199.46,222.50 v-3 M206.52,222.50 v-3 M211.99,222.50 v-3 M216.47,222.50 v-3 M220.25,222.50 v-3 M223.52,222.50 v-3 M226.41,222.50 v-3 M246.01,222.50 v-3 M255.96,222.50 v-3 M263.02,222.50 v-3 M268.49,222.50 v-3 M272.97,222.50 v-3 M276.75,222.50 v-3 M280.02,222.50 v-3 M282.91,222.50 v-3 M302.51,222.50 v-3 M312.46,222.50 v-3 M319.52,222.50 v-3 M324.99,222.50 v-3 M329.47,222.50 v-3 M333.25,222.50 v-3 M336.52,222.50 v-3 M339.41,222.50 v-3 M59.50,222.50 v-6 M116.00,222.50 v-6 M172.50,222.50 v-6 M229.00,222.50 v-6 M285.50,222.50 v-6 M342.00,222.50 v-6 M59.50,26.50 h6 M59.50,65.70 h6 M59.50,104.90 h6 M59.50,144.10 h6 M59.50,183.30 h6"/>
<rect x="59.5" y="0.5" width="282.5" height="222.0"/>
</g>
<g stroke-width="1.3">
<path d="M68.7,161.3 h23.4" stroke="#bb1e1e" opacity="0.85"/>
<path d="M68.7,176.4 h23.4" stroke="#158a15" opacity="0.95"/>
<path d="M68.7,191.8 h23.4" stroke="#ff8000" opacity="0.95"/>
<path d="M68.7,207.3 h23.4" stroke="#8b008b" opacity="0.75"/>
</g>
<g font-family="Liberation Serif" fill="#111">
<text x="51.13" y="235.80" font-size="12" textLength="12.13" lengthAdjust="spacingAndGlyphs">10</text><text x="63.04" y="230.50" font-size="8.4" textLength="4.84" lengthAdjust="spacingAndGlyphs">3</text><text x="107.63" y="235.80" font-size="12" textLength="12.13" lengthAdjust="spacingAndGlyphs">10</text><text x="119.83" y="230.50" font-size="8.4" textLength="4.30" lengthAdjust="spacingAndGlyphs">4</text><text x="164.13" y="235.80" font-size="12" textLength="12.13" lengthAdjust="spacingAndGlyphs">10</text><text x="175.92" y="230.50" font-size="8.4" textLength="4.96" lengthAdjust="spacingAndGlyphs">5</text><text x="220.63" y="235.80" font-size="12" textLength="12.13" lengthAdjust="spacingAndGlyphs">10</text><text x="232.60" y="230.50" font-size="8.4" textLength="4.68" lengthAdjust="spacingAndGlyphs">6</text><text x="277.13" y="235.80" font-size="12" textLength="12.13" lengthAdjust="spacingAndGlyphs">10</text><text x="288.85" y="230.50" font-size="8.4" textLength="4.93" lengthAdjust="spacingAndGlyphs">7</text><text x="333.63" y="235.80" font-size="12" textLength="12.13" lengthAdjust="spacingAndGlyphs">10</text><text x="345.64" y="230.50" font-size="8.4" textLength="4.72" lengthAdjust="spacingAndGlyphs">8</text><text x="27.24" y="31.10" font-size="12" textLength="12.01" lengthAdjust="spacingAndGlyphs">10</text><text x="39.58" y="26.60" font-size="8.4" textLength="7.03" lengthAdjust="spacingAndGlyphs">−</text><text x="45.74" y="26.60" font-size="8.4" textLength="9.80" lengthAdjust="spacingAndGlyphs">12</text><text x="27.24" y="70.30" font-size="12" textLength="12.01" lengthAdjust="spacingAndGlyphs">10</text><text x="39.58" y="65.80" font-size="8.4" textLength="7.03" lengthAdjust="spacingAndGlyphs">−</text><text x="45.75" y="65.80" font-size="8.4" textLength="9.62" lengthAdjust="spacingAndGlyphs">15</text><text x="27.24" y="109.50" font-size="12" textLength="12.01" lengthAdjust="spacingAndGlyphs">10</text><text x="39.58" y="105.00" font-size="8.4" textLength="7.03" lengthAdjust="spacingAndGlyphs">−</text><text x="45.76" y="105.00" font-size="8.4" textLength="9.61" lengthAdjust="spacingAndGlyphs">18</text><text x="27.24" y="148.70" font-size="12" textLength="12.01" lengthAdjust="spacingAndGlyphs">10</text><text x="39.58" y="144.20" font-size="8.4" textLength="7.03" lengthAdjust="spacingAndGlyphs">−</text><text x="46.19" y="144.20" font-size="8.4" textLength="9.38" lengthAdjust="spacingAndGlyphs">21</text><text x="27.24" y="187.90" font-size="12" textLength="12.01" lengthAdjust="spacingAndGlyphs">10</text><text x="39.58" y="183.40" font-size="8.4" textLength="7.03" lengthAdjust="spacingAndGlyphs">−</text><text x="46.21" y="183.40" font-size="8.4" textLength="8.93" lengthAdjust="spacingAndGlyphs">24</text><text x="27.24" y="227.10" font-size="12" textLength="12.01" lengthAdjust="spacingAndGlyphs">10</text><text x="39.58" y="222.60" font-size="8.4" textLength="7.03" lengthAdjust="spacingAndGlyphs">−</text><text x="46.20" y="222.60" font-size="8.4" textLength="9.06" lengthAdjust="spacingAndGlyphs">27</text>
</g>
<g font-family="Liberation Serif" fill="#000" stroke="#000" stroke-width="0.15"><text x="100.09" y="165.70" font-size="11.6" textLength="111.52" lengthAdjust="spacingAndGlyphs">Thermal Readout Noise</text><text x="99.97" y="180.90" font-size="11.6" textLength="104.64" lengthAdjust="spacingAndGlyphs">Mechanical Vibrations</text><text x="100.09" y="196.10" font-size="11.6" textLength="147.83" lengthAdjust="spacingAndGlyphs">Thermal Mechanical Vibrations</text><text x="99.84" y="211.20" font-size="11.6" textLength="114.75" lengthAdjust="spacingAndGlyphs">Oscillator Leakage Noise</text><text x="130.09" y="252.30" font-size="11.6" textLength="76.96" lengthAdjust="spacingAndGlyphs">GW Frequency</text><text x="213.39" y="252.30" font-size="11.6" textLength="8.64" lengthAdjust="spacingAndGlyphs" font-style="italic">ω</text><text x="221.80" y="254.30" font-size="8.2" textLength="5.00" lengthAdjust="spacingAndGlyphs" font-style="italic">g</text><text x="228.80" y="252.30" font-size="11.6" textLength="16.39" lengthAdjust="spacingAndGlyphs">/2π</text><text x="250.75" y="252.30" font-size="11.6" textLength="20.89" lengthAdjust="spacingAndGlyphs">[Hz]</text><g transform="translate(17,111) rotate(-90)"><path d="M-40.1,-16.5 L-47.2,6.4 M7,-16.5 L-40.1,-16.5" fill="none" stroke="#1a1a1a" stroke-width="0.7"/><path d="M-47.2,6.4 L-50.6,-4.4" fill="none" stroke="#1a1a1a" stroke-width="1.3" stroke-linecap="round"/><text x="-38.72" y="0.20" font-size="12.8" textLength="9.21" lengthAdjust="spacingAndGlyphs" font-style="italic">S</text><text x="-31.90" y="4.40" font-size="8.2" textLength="5.56" lengthAdjust="spacingAndGlyphs" font-style="italic">h</text><text x="-28.99" y="-7.20" font-size="8.2" textLength="17.07" lengthAdjust="spacingAndGlyphs">noise</text><text x="-10.28" y="1.40" font-size="14.2" textLength="3.63" lengthAdjust="spacingAndGlyphs">(</text><text x="-7.25" y="0.20" font-size="12.4" textLength="9.65" lengthAdjust="spacingAndGlyphs" font-style="italic">ω</text><text x="2.65" y="1.40" font-size="14.2" textLength="3.63" lengthAdjust="spacingAndGlyphs">)</text><text x="11.40" y="0.00" font-size="11.6" textLength="2.69" lengthAdjust="spacingAndGlyphs">[</text><text x="13.90" y="0.00" font-size="11.6" textLength="7.61" lengthAdjust="spacingAndGlyphs">H</text><text x="21.24" y="0.00" font-size="11.6" textLength="5.93" lengthAdjust="spacingAndGlyphs">z</text><text x="26.98" y="-4.60" font-size="8.2" textLength="7.03" lengthAdjust="spacingAndGlyphs">−</text><text x="32.90" y="-4.60" font-size="8.2" textLength="6.25" lengthAdjust="spacingAndGlyphs">1</text><text x="39.00" y="-4.60" font-size="8.2" textLength="4.60" lengthAdjust="spacingAndGlyphs">/</text><text x="43.30" y="-4.60" font-size="8.2" textLength="5.74" lengthAdjust="spacingAndGlyphs">2</text><text x="48.91" y="0.00" font-size="11.6" textLength="2.69" lengthAdjust="spacingAndGlyphs">]</text></g></g>
<g font-family="Liberation Serif">
<g transform="translate(231.6,29.6) rotate(-12)" fill="#bb1e1e"><text x="0.18" y="0.00" font-size="11.6" textLength="5.63" lengthAdjust="spacingAndGlyphs" font-style="italic">β</text><text x="7.02" y="4.00" font-size="8.2" textLength="12.63" lengthAdjust="spacingAndGlyphs">out</text><text x="23.26" y="0.00" font-size="11.6" textLength="10.67" lengthAdjust="spacingAndGlyphs">=</text><text x="36.60" y="0.00" font-size="11.6" textLength="7.95" lengthAdjust="spacingAndGlyphs">1</text></g><g transform="translate(231.8,62.8) rotate(-12)" fill="#bb1e1e"><text x="0.19" y="0.00" font-size="11.6" textLength="6.02" lengthAdjust="spacingAndGlyphs" font-style="italic">β</text><text x="7.20" y="3.40" font-size="8.2" textLength="13.26" lengthAdjust="spacingAndGlyphs">out</text><text x="23.44" y="0.00" font-size="11.6" textLength="10.91" lengthAdjust="spacingAndGlyphs">=</text><text x="36.29" y="0.00" font-size="11.6" textLength="12.59" lengthAdjust="spacingAndGlyphs">10</text><text x="48.39" y="-5.00" font-size="8.2" textLength="5.21" lengthAdjust="spacingAndGlyphs">5</text></g><g fill="#8b008b"><text x="286.18" y="118.60" font-size="11.6" textLength="5.44" lengthAdjust="spacingAndGlyphs" font-style="italic">β</text><text x="291.59" y="122.40" font-size="8.2" textLength="13.67" lengthAdjust="spacingAndGlyphs">out</text><text x="309.64" y="118.60" font-size="11.6" textLength="10.91" lengthAdjust="spacingAndGlyphs">=</text><text x="322.59" y="118.60" font-size="11.6" textLength="13.73" lengthAdjust="spacingAndGlyphs">10</text><text x="336.05" y="113.80" font-size="8.2" textLength="4.72" lengthAdjust="spacingAndGlyphs">5</text></g><g transform="translate(275.6,149.6) rotate(30)" fill="#158a15"><text x="-0.62" y="-0.40" font-size="11.6" textLength="6.32" lengthAdjust="spacingAndGlyphs" font-style="italic">q</text><text x="5.42" y="3.00" font-size="8.8" textLength="13.51" lengthAdjust="spacingAndGlyphs">rms</text><text x="23.02" y="0.00" font-size="11.6" textLength="11.15" lengthAdjust="spacingAndGlyphs">=</text><text x="37.10" y="0.00" font-size="11.6" textLength="16.28" lengthAdjust="spacingAndGlyphs">0.1</text><text x="56.31" y="0.00" font-size="11.6" textLength="15.88" lengthAdjust="spacingAndGlyphs">nm</text></g>
</g>
</svg></body></html>
